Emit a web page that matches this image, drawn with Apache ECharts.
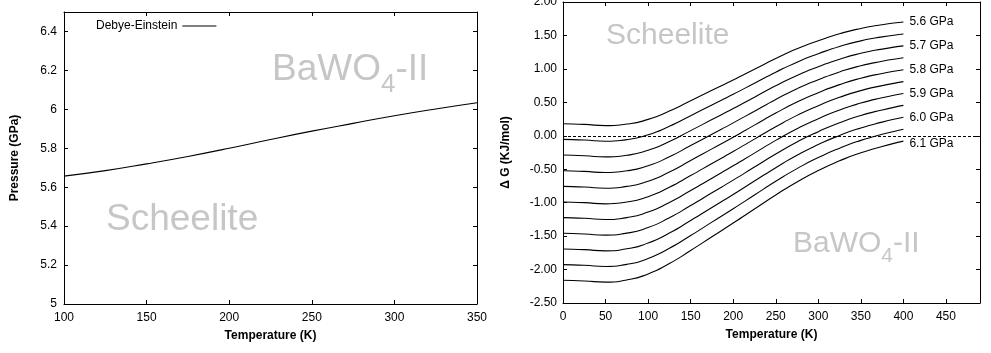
<!DOCTYPE html>
<html><head><meta charset="utf-8">
<script src="https://cdn.jsdelivr.net/npm/echarts@6/dist/echarts.min.js"></script>
<style>html,body{margin:0;padding:0;background:#fff}#c{width:991px;height:353px}</style>
</head><body><div id="c"></div>
<script>
// ---- Left panel: transition pressure vs temperature ----
const pTemps = [100, 125, 150, 175, 200, 225, 250, 275, 300, 325, 350];
const pTransition = [5.657, 5.685, 5.72, 5.758, 5.80, 5.845, 5.888, 5.928, 5.967, 6.002, 6.034];
const leftXTicks = [100, 150, 200, 250, 300, 350];
const leftYTicks = [5, 5.2, 5.4, 5.6, 5.8, 6, 6.2, 6.4];

// ---- Right panel: Delta G vs temperature at several pressures ----
const gTemps = [0, 25, 50, 75, 100, 125, 150, 175, 200, 225, 250, 275, 300, 325, 350, 375, 400];
const dG_560 = [0.18, 0.17, 0.152, 0.175, 0.245, 0.37, 0.525, 0.68, 0.835, 0.995, 1.155, 1.30, 1.42, 1.525, 1.605, 1.66, 1.70];
const dG_565 = [-0.054, -0.064, -0.082, -0.058, 0.014, 0.142, 0.301, 0.461, 0.621, 0.786, 0.951, 1.101, 1.226, 1.335, 1.419, 1.478, 1.522];
const dG_570 = [-0.288, -0.298, -0.316, -0.291, -0.217, -0.086, 0.077, 0.242, 0.407, 0.577, 0.747, 0.902, 1.032, 1.145, 1.233, 1.296, 1.344];
const dG_575 = [-0.522, -0.532, -0.55, -0.524, -0.448, -0.314, -0.147, 0.023, 0.193, 0.368, 0.543, 0.703, 0.838, 0.955, 1.047, 1.114, 1.166];
const dG_580 = [-0.756, -0.766, -0.784, -0.757, -0.679, -0.542, -0.371, -0.196, -0.021, 0.159, 0.339, 0.504, 0.644, 0.765, 0.861, 0.932, 0.988];
const dG_585 = [-0.99, -1.0, -1.018, -0.99, -0.91, -0.77, -0.595, -0.415, -0.235, -0.05, 0.135, 0.305, 0.45, 0.575, 0.675, 0.75, 0.81];
const dG_590 = [-1.224, -1.234, -1.252, -1.223, -1.141, -0.998, -0.819, -0.634, -0.449, -0.259, -0.069, 0.106, 0.256, 0.385, 0.489, 0.568, 0.632];
const dG_595 = [-1.458, -1.468, -1.486, -1.456, -1.372, -1.226, -1.043, -0.853, -0.663, -0.468, -0.273, -0.093, 0.062, 0.195, 0.303, 0.386, 0.454];
const dG_600 = [-1.692, -1.702, -1.72, -1.689, -1.603, -1.454, -1.267, -1.072, -0.877, -0.677, -0.477, -0.292, -0.132, 0.005, 0.117, 0.204, 0.276];
const dG_605 = [-1.926, -1.936, -1.954, -1.922, -1.834, -1.682, -1.491, -1.291, -1.091, -0.886, -0.681, -0.491, -0.326, -0.185, -0.069, 0.022, 0.098];
const dG_610 = [-2.16, -2.17, -2.188, -2.155, -2.065, -1.91, -1.715, -1.51, -1.305, -1.095, -0.885, -0.69, -0.52, -0.375, -0.255, -0.16, -0.08];
const curvePressures = ['5.60', '5.65', '5.70', '5.75', '5.80', '5.85', '5.90', '5.95', '6.00', '6.05', '6.10'];
const curveLabels = ['5.6 GPa', '', '5.7 GPa', '', '5.8 GPa', '', '5.9 GPa', '', '6.0 GPa', '', '6.1 GPa'];
const rightXTicks = [0, 50, 100, 150, 200, 250, 300, 350, 400, 450];
const rightYTicks = [-2.5, -2.0, -1.5, -1.0, -0.5, 0, 0.5, 1.0, 1.5, 2.0];

const curves = [dG_560, dG_565, dG_570, dG_575, dG_580, dG_585, dG_590, dG_595, dG_600, dG_605, dG_610];

const FONT = "'Liberation Sans', Arial, Helvetica, sans-serif";
const GRAY = '#c6c6c6';

const chart = echarts.init(document.getElementById('c'), null, {renderer: 'canvas'});

function axisCommon(extra) {
  return Object.assign({
    axisLine: {show: true, onZero: false, lineStyle: {color: '#000', width: 1}},
    axisTick: {show: true, inside: true, length: 4, lineStyle: {color: '#000', width: 1}},
    splitLine: {show: false},
    axisLabel: {color: '#000', fontSize: 12, fontFamily: FONT}
  }, extra);
}
const nameStyle = {color: '#000', fontSize: 12, fontWeight: 'bold', fontFamily: FONT};

const leftMin = leftXTicks[0], leftMax = leftXTicks[leftXTicks.length - 1];
const rightMin = rightXTicks[0];

const xAxes = [
  axisCommon({gridIndex: 0, type: 'value', position: 'bottom', min: leftMin, max: leftMax, interval: 50,
    name: 'Temperature (K)', nameLocation: 'middle', nameGap: 26, nameTextStyle: nameStyle,
    axisLabel: {color: '#000', fontSize: 12, fontFamily: FONT, margin: 8}}),
  axisCommon({gridIndex: 0, type: 'value', position: 'top', min: leftMin, max: leftMax, interval: 50,
    axisLabel: {show: false}}),
  axisCommon({gridIndex: 1, type: 'value', position: 'bottom', min: rightMin, max: 490, interval: 50,
    name: 'Temperature (K)', nameLocation: 'middle', nameGap: 26, nameTextStyle: nameStyle,
    axisLabel: {color: '#000', fontSize: 12, fontFamily: FONT, margin: 8,
      formatter: v => rightXTicks.indexOf(v) >= 0 ? String(v) : ''}}),
  axisCommon({gridIndex: 1, type: 'value', position: 'top', min: rightMin, max: 490, interval: 50,
    axisLabel: {show: false}})
];
const yAxes = [
  axisCommon({gridIndex: 0, type: 'value', position: 'left', min: 5, max: 6.5, interval: 0.2,
    name: 'Pressure (GPa)', nameLocation: 'middle', nameGap: 43, nameTextStyle: nameStyle,
    axisLabel: {color: '#000', fontSize: 12, fontFamily: FONT, margin: 7,
      formatter: v => (leftYTicks.some(t => Math.abs(t - v) < 1e-6) ? String(+v.toFixed(1)) : '')}}),
  axisCommon({gridIndex: 0, type: 'value', position: 'right', min: 5, max: 6.5, interval: 0.2,
    axisLabel: {show: false}}),
  axisCommon({gridIndex: 1, type: 'value', position: 'left', min: -2.5, max: 2, interval: 0.5,
    name: 'Δ G (KJ/mol)', nameLocation: 'middle', nameGap: 51, nameTextStyle: nameStyle,
    axisLabel: {color: '#000', fontSize: 12, fontFamily: FONT, margin: 6,
      formatter: v => v.toFixed(2)}}),
  axisCommon({gridIndex: 1, type: 'value', position: 'right', min: -2.5, max: 2, interval: 0.5,
    axisLabel: {show: false}})
];

const series = [{
  name: 'Debye-Einstein', type: 'line', xAxisIndex: 0, yAxisIndex: 0,
  data: pTemps.map((t, i) => [t, pTransition[i]]),
  smooth: true, symbol: 'none', color: '#000',
  lineStyle: {color: '#000', width: 1.1}
}];
curves.forEach((arr, k) => {
  const s = {
    name: curvePressures[k] + ' GPa', type: 'line', xAxisIndex: 2, yAxisIndex: 2,
    data: gTemps.map((t, i) => [t, arr[i]]),
    smooth: 0.6, symbol: 'none', color: '#000',
    lineStyle: {color: '#000', width: 1.1}
  };
  if (curveLabels[k]) {
    s.endLabel = {show: true, formatter: curveLabels[k], distance: 6, color: '#000',
      fontSize: 12, fontFamily: FONT, offset: k === 10 ? [0, 3] : [0, 0]};
  }
  if (k === 0) {
    s.markLine = {silent: true, symbol: ['none', 'none'], label: {show: false},
      lineStyle: {type: [3, 2], color: '#000', width: 1},
      data: [{yAxis: 0}]};
  }
  series.push(s);
});

const bigRich = (fs, subFs) => ({
  a: {fontSize: fs, lineHeight: Math.round(fs * 1.5), color: GRAY, fontFamily: FONT},
  b: {fontSize: subFs, lineHeight: subFs, verticalAlign: 'bottom', color: GRAY, fontFamily: FONT}
});

chart.setOption({
  animation: false,
  backgroundColor: '#fff',
  textStyle: {fontFamily: FONT},
  grid: [
    {left: 64, top: 12, width: 413, height: 292, containLabel: false, outerBoundsMode: 'none'},
    {left: 563, top: 2, width: 417, height: 301, containLabel: false, outerBoundsMode: 'none'}
  ],
  legend: {
    data: ['Debye-Einstein'], left: 91, top: 15, align: 'right', icon: 'rect',
    itemWidth: 34, itemHeight: 1, selectedMode: false,
    textStyle: {color: '#000', fontSize: 12, fontFamily: FONT}
  },
  xAxis: xAxes,
  yAxis: yAxes,
  series: series,
  graphic: [
    {type: 'text', left: 272, top: 51, silent: true, z: 0,
      style: {text: '{a|BaWO}{b|4}{a|-II}', rich: bigRich(37, 26), verticalAlign: 'middle', fill: GRAY}},
    {type: 'text', left: 106, top: 201, silent: true, z: 0,
      style: {text: 'Scheelite', font: '37px ' + FONT, fill: GRAY, verticalAlign: 'middle'}},
    {type: 'text', left: 606, top: 21, silent: true, z: 0,
      style: {text: 'Scheelite', font: '30px ' + FONT, fill: GRAY, verticalAlign: 'middle'}},
    {type: 'text', left: 793, top: 229, silent: true, z: 0,
      style: {text: '{a|BaWO}{b|4}{a|-II}', rich: bigRich(30, 21), verticalAlign: 'middle', fill: GRAY}}
  ]
});
</script>
</body></html>
